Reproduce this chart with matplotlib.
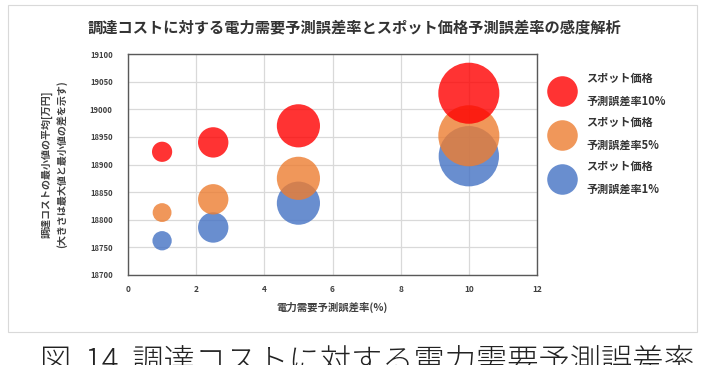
import matplotlib
matplotlib.use("Agg")
import matplotlib.pyplot as plt
from matplotlib.lines import Line2D
from matplotlib.patches import Rectangle

plt.rcParams['font.family'] = ['Noto Sans CJK JP', 'DejaVu Sans']

# Data
demand_err = [1, 2.5, 5, 10]  # 電力需要予測誤差率(%)
cost_spot10 = [18923, 18940, 18970, 19029]
cost_spot5 = [18813, 18837, 18875, 18952]
cost_spot1 = [18762, 18786, 18830, 18915]
size_spot10 = [23, 52, 105, 210]
size_spot5 = [20, 52, 105, 210]
size_spot1 = [21, 52, 105, 205]
labels = ['スポット価格\n予測誤差率10%', 'スポット価格\n予測誤差率5%', 'スポット価格\n予測誤差率1%']
colors = ['#FF0000', '#ED7D31', '#4472C4']
yticks = list(range(18700, 19101, 50))
xticks = list(range(0, 13, 2))

scale = 9.2

fig = plt.figure(figsize=(7.06, 3.65), dpi=100)
fig.patches.append(Rectangle((8/706, 1-332/365), 689/706, 327/365,
                             transform=fig.transFigure, fill=False,
                             edgecolor='#d9d9d9', linewidth=0.8))

ax = fig.add_axes([128/706, 1-275/365, 409/706, 221/365])
series = [(cost_spot10, size_spot10), (cost_spot5, size_spot5), (cost_spot1, size_spot1)]
# draw blue first, then orange, then red on top
for i in [2, 1, 0]:
    ys, ss = series[i]
    ax.scatter(demand_err, ys, s=[v * scale for v in ss], color=colors[i],
               alpha=0.8, edgecolors='none', zorder=3)

ax.set_xlim(0, 12)
ax.set_ylim(18700, 19100)
ax.set_xticks(xticks)
ax.set_yticks(yticks)
ax.set_xticklabels([str(v) for v in xticks], fontsize=6, fontweight='bold', color='#404040')
ax.set_yticklabels([str(v) for v in yticks], fontsize=5.5, fontweight='bold', color='#404040')
ax.tick_params(axis='y', length=0, pad=11)
ax.tick_params(axis='x', length=0, pad=7)
ax.grid(True, color='#d9d9d9', linewidth=0.9, zorder=0)
ax.set_axisbelow(True)
for sp in ax.spines.values():
    sp.set_color('#595959')
    sp.set_linewidth(1.0)

ax.set_xlabel('電力需要予測誤差率(%)', fontsize=7.5, fontweight='bold', color='#404040', labelpad=6)
ax.set_ylabel('調達コストの最小値の平均[万円]\n(大きさは最大値と最小値の差を示す)', fontsize=7.2,
              fontweight='bold', color='#404040', labelpad=16, linespacing=1.5)

fig.text(354/706, 1-27/365, '調達コストに対する電力需要予測誤差率とスポット価格予測誤差率の感度解析',
         ha='center', va='center', fontsize=11, fontweight='bold', color='#333333')

handles = [Line2D([0], [0], marker='o', linestyle='none', markersize=22,
                  markerfacecolor=c, markeredgecolor='none', alpha=0.8) for c in colors]
leg = fig.legend(handles, labels, loc='upper left', bbox_to_anchor=(545/706, 1-66/365),
                 frameon=False, fontsize=8, labelspacing=0.75, handletextpad=1.2,
                 borderpad=0, handlelength=2.0)
for t in leg.get_texts():
    t.set_fontweight('bold')
    t.set_color('#333333')
    t.set_linespacing(2.0)

fig.text(40/706, 1-346/365, '図  14  調達コストに対する電力需要予測誤差率',
         ha='left', va='top', fontsize=22.5, fontweight='light', color='#222222')

fig.savefig('out.png', dpi=100, facecolor='white')
